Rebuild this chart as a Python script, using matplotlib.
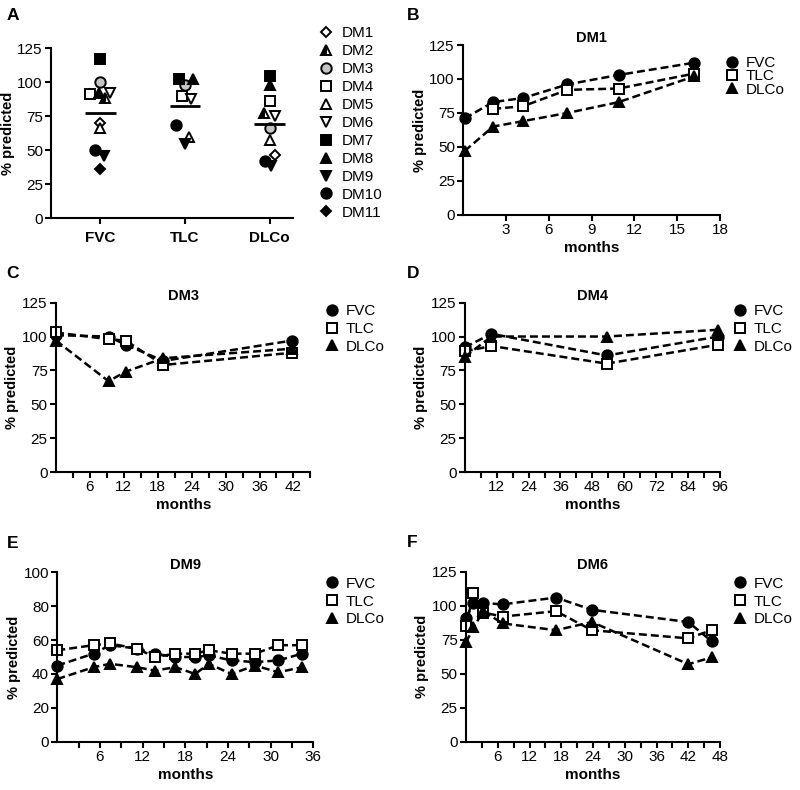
import numpy as np
import matplotlib
matplotlib.use('Agg')
import matplotlib.pyplot as plt
from matplotlib.lines import Line2D

plt.rcParams['font.family'] = ['Liberation Sans', 'DejaVu Sans']
plt.rcParams['axes.linewidth'] = 1.5

#panel A data (None = not measured)
CATEGORIES = ['FVC', 'TLC', 'DLCo']
DM_LABELS = ['DM1', 'DM2', 'DM3', 'DM4', 'DM5', 'DM6', 'DM7', 'DM8', 'DM9', 'DM10', 'DM11']
fvc_vals = [70, 88, 100, 91, 66, 92, 117, 92, 46, 50, 36]
tlc_vals = [None, None, 98, 89.5, 60, 87.5, 102, 102, 54.7, 68.6, None]
dlco_vals = [46.6, 77, 66, 86, 57.6, 75, 104.7, 98, 38, 41.7, None]

#panels B-F data: months and % predicted
months_b = [0.1, 2.1, 4.2, 7.3, 10.9, 16.2]
fvc_b = [71, 83, 86, 96, 103, 112]
tlc_b = [None, 78, 80, 92, 93, 104]
dlco_b = [47, 65, 69, 75, 83, 102]

months_c = [0, 9.3, 12.3, 19, 41.7]
fvc_c = [101, 100, 94, 82, 97]
tlc_c = [103, 98, 97, 79, 88]
dlco_c = [97, 67, 74, 84, 91]

months_d = [0, 10, 53.4, 95.4]
fvc_d = [92, 102, 86, 100]
tlc_d = [89, 93, 80, 94]
dlco_d = [85, 100, 100, 105]

months_e = [0, 5.1, 7.4, 11.2, 13.7, 16.6, 19.4, 21.3, 24.5, 27.8, 31.1, 34.4]
fvc_e = [45, 52, 57, 55, 52, 50, 50, 51, 48, 47, 48, 52]
tlc_e = [54, 57, 58, 55, 50, 52, 52, 54, 52, 52, 57, 57]
dlco_e = [37, 44, 46, 44, 42, 44, 40, 46, 40, 45, 41, 44]

months_f = [0, 1.4, 3.3, 6.9, 17, 23.8, 42, 46.4]
fvc_f = [91, 102, 102, 101, 106, 97, 88, 74]
tlc_f = [85, 109, 95, 92, 96, 82, 76, 82]
dlco_f = [73, 84, 96, 87, 82, 88, 57, 62]

#horizontal spread of the dots in panel A
jitter = {
    'FVC': [0, 0.06, 0, -0.12, 0, 0.12, 0, -0.02, 0.04, -0.06, 0],
    'TLC': [0, 0, 0, -0.03, 0.05, 0.07, -0.07, 0.1, 0, -0.11, 0],
    'DLCo': [0.06, -0.07, 0, 0, 0, 0.07, 0, 0, 0.02, -0.05, 0],
}

# marker style for each patient
dm_styles = [
    dict(marker='D', mfc='white', ms=5.5),
    dict(marker='^', mfc='black', mfcalt='white', fillstyle='left', ms=7),
    dict(marker='o', mfc='#c4c4c4', ms=7.5),
    dict(marker='s', mfc='white', ms=7.5),
    dict(marker='^', mfc='white', ms=7.5),
    dict(marker='v', mfc='white', ms=7.5),
    dict(marker='s', mfc='black', ms=7.5),
    dict(marker='^', mfc='black', ms=7.5),
    dict(marker='v', mfc='black', ms=7.5),
    dict(marker='o', mfc='black', ms=7.5),
    dict(marker='D', mfc='black', ms=5.5),
]

DASH = (0, (3.2, 1.6))
SERIES_STYLE = [
    ('FVC', dict(marker='o', mfc='black', ms=7.5)),
    ('TLC', dict(marker='s', mfc='white', ms=7.5)),
    ('DLCo', dict(marker='^', mfc='black', ms=7.5)),
]


def style_axes(ax):
    for side in ['top', 'right']:
        ax.spines[side].set_visible(False)
    ax.tick_params(direction='out', length=4, width=1.5, labelsize=11, pad=2)
    ax.set_ylabel('% predicted', fontsize=10.5, fontweight='bold', labelpad=2)


fig = plt.figure(figsize=(8, 7.9), dpi=100)

# panel A
axA = fig.add_axes([0.064, 0.724, 0.3025, 0.215])
style_axes(axA)
cat_vals = [fvc_vals, tlc_vals, dlco_vals]
for i, label in enumerate(DM_LABELS):
    st = dm_styles[i]
    kw = dict(marker=st['marker'], markersize=st['ms'], markerfacecolor=st['mfc'],
              markeredgecolor='black', markeredgewidth=1.4, linestyle='none',
              clip_on=False)
    if 'fillstyle' in st:
        kw['fillstyle'] = st['fillstyle']
        kw['markerfacecoloralt'] = st['mfcalt']
    xs, ys = [], []
    for c, cat in enumerate(CATEGORIES):
        v = cat_vals[c][i]
        if v is not None:
            xs.append(c + 1 + jitter[cat][i])
            ys.append(v)
    axA.plot(xs, ys, label=label, **kw)
for c, vals in enumerate(cat_vals):
    m = np.mean([v for v in vals if v is not None])
    axA.hlines(m, c + 1 - 0.18, c + 1 + 0.18, color='black', lw=2, zorder=5)
axA.set_xlim(0.42, 3.28)
axA.set_ylim(0, 125)
axA.set_yticks([0, 25, 50, 75, 100, 125])
axA.set_xticks([1, 2, 3])
axA.set_xticklabels(CATEGORIES, fontweight='bold', fontsize=11)
axA.tick_params(axis='x', pad=5)
axA.legend(loc='upper left', bbox_to_anchor=(0.398, 0.967), bbox_transform=fig.transFigure,
           frameon=False, fontsize=11, handlelength=1.0, handletextpad=0.5,
           labelspacing=0.26, borderpad=0, borderaxespad=0)

panels = [
    ('B', 'DM1', months_b, [fvc_b, tlc_b, dlco_b], [0.579, 0.728, 0.321, 0.215], (0, 18),
     range(3, 19, 3), range(3, 19, 3), [0, 25, 50, 75, 100, 125], (0, 125), (0.905, 0.929), -0.05),
    ('C', 'DM3', months_c, [fvc_c, tlc_c, dlco_c], [0.07, 0.4025, 0.318, 0.2144], (0, 45),
     range(6, 43, 6), range(3, 46, 3), [0, 25, 50, 75, 100, 125], (0, 125), (0.405, 0.615), 0.25),
    ('D', 'DM4', months_d, [fvc_d, tlc_d, dlco_d], [0.581, 0.4025, 0.319, 0.2144], (0, 96),
     range(12, 97, 12), range(6, 97, 6), [0, 25, 50, 75, 100, 125], (0, 125), (0.915, 0.615), 0.25),
    ('E', 'DM9', months_e, [fvc_e, tlc_e, dlco_e], [0.0716, 0.0611, 0.32, 0.2144], (0, 36),
     range(6, 37, 6), range(3, 37, 3), [0, 20, 40, 60, 80, 100], (0, 100), (0.405, 0.270), 0.25),
    ('F', 'DM6', months_f, [fvc_f, tlc_f, dlco_f], [0.5825, 0.0611, 0.3175, 0.2152], (0, 48),
     range(6, 49, 6), range(3, 49, 3), [0, 25, 50, 75, 100, 125], (0, 125), (0.915, 0.270), 0.25),
]

for letter, title, months, series, pos, xlim, major, minor, yt, ylim, leg_pos, lsp in panels:
    ax = fig.add_axes(pos)
    style_axes(ax)
    handles = []
    for (name, st), vals in zip(SERIES_STYLE, series):
        x = [m for m, v in zip(months, vals) if v is not None]
        y = [v for v in vals if v is not None]
        ax.plot(x, y, color='black', lw=1.8, linestyle=DASH, marker=st['marker'],
                markersize=st['ms'], markerfacecolor=st['mfc'], markeredgecolor='black',
                markeredgewidth=1.4, clip_on=False)
        handles.append(Line2D([], [], linestyle='none', marker=st['marker'], markersize=st['ms'],
                              markerfacecolor=st['mfc'], markeredgecolor='black',
                              markeredgewidth=1.4, label=name))
    ax.set_xlim(*xlim)
    ax.set_ylim(*ylim)
    ax.set_yticks(yt)
    ax.set_xticks(list(major))
    ax.set_xticks(list(minor), minor=True)
    ax.tick_params(axis='x', which='minor', length=4, width=1.5)
    ax.set_xlabel('months', fontsize=11, fontweight='bold', labelpad=2.5)
    ax.set_title(title, fontsize=10.5, fontweight='bold', pad=2)
    ax.legend(handles=handles, loc='upper left', bbox_to_anchor=leg_pos,
              bbox_transform=fig.transFigure, frameon=False, fontsize=11,
              handlelength=1.0, handletextpad=0.4, labelspacing=lsp,
              borderpad=0, borderaxespad=0)
    lx = 0.008 if pos[0] < 0.5 else 0.508
    fig.text(lx, pos[1] + pos[3] + 0.037, letter, fontsize=12.5, fontweight='bold',
             va='center', ha='left')

fig.text(0.008, 0.981, 'A', fontsize=12.5, fontweight='bold', va='center', ha='left')

fig.savefig('out.png', dpi=100)
